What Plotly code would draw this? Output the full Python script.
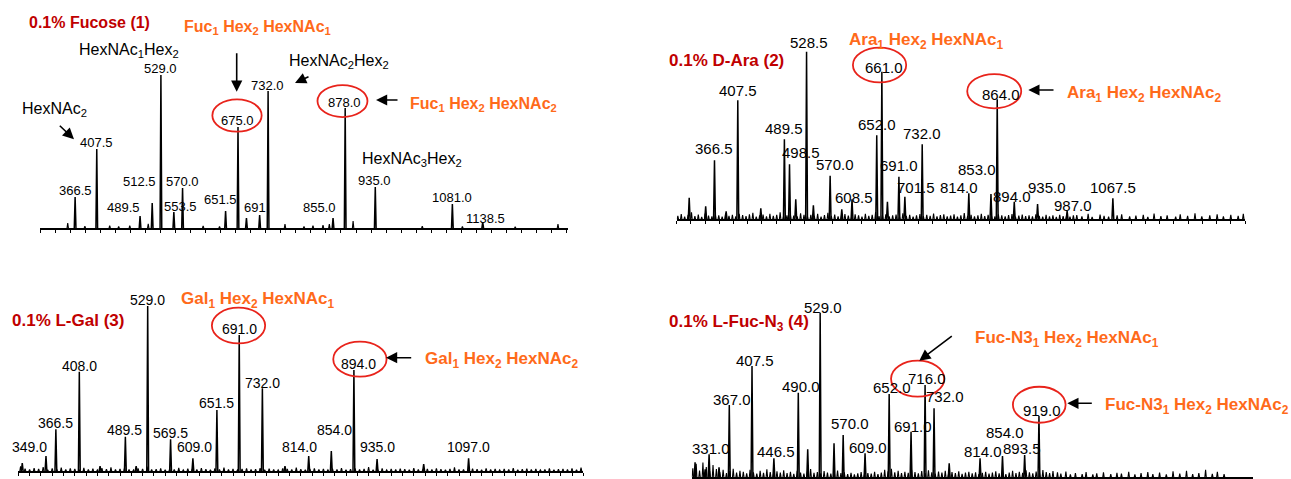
import plotly.graph_objects as go

W, H = 1291, 479

# ------------------------------------------------------------------ data
# Panel 1: 0.1% Fucose (1)
p1_mz = [366.5, 407.5, 489.5, 512.5, 529.0, 553.5, 570.0, 651.5, 675.0, 691.0, 716.0,
         732.0, 855.0, 878.0, 935.0, 1081.0, 1138.5]
p1_int = [20.3, 51.6, 7.8, 16.3, 100.0, 10.5, 26.1, 11.1, 66.0, 6.5, 8.5,
          89.5, 6.5, 78.4, 26.8, 15.7, 3.9]
p1_lab = ["366.5", "407.5", "489.5", "512.5", "529.0", "553.5", "570.0", "651.5", "675.0", "691", "",
          "732.0", "855.0", "878.0", "935.0", "1081.0", "1138.5"]
p1_minor_mz = [352.5, 385.0, 432.0, 449.0, 470.0, 505.0, 609.0, 640.0, 764.0, 800.0, 817.0,
               836.0, 848.0, 893.0, 1024.0, 1100.0, 1200.0, 1281.0]
p1_minor_int = [3.3, 1.2, 1.5, 1.0, 1.5, 2.8, 1.3, 1.0, 2.6, 1.0, 1.5,
                1.8, 2.5, 4.6, 1.2, 1.0, 0.8, 2.6]

# Panel 2: 0.1% D-Ara (2)
p2_mz = [322.0, 351.0, 366.5, 387.0, 407.5, 448.0, 489.5, 498.5, 509.5, 528.5, 540.5, 570.0,
         590.5, 608.5, 652.0, 661.0, 670.8, 691.0, 701.5, 732.0, 814.0, 853.0, 864.0,
         894.0, 935.0, 987.0, 1067.5]
p2_int = [12.9, 7.8, 35.2, 4.8, 71.0, 6.6, 47.7, 32.8, 11.9, 100.0, 8.4, 26.0,
          6.0, 11.9, 50.1, 88.1, 10.5, 25.4, 13.5, 44.7, 15.5, 15.1, 71.6,
          10.5, 9.1, 5.1, 12.5]
p2_lab = ["", "", "366.5", "", "407.5", "", "489.5", "498.5", "", "528.5", "", "570.0",
          "", "608.5", "652.0", "661.0", "", "691.0", "701.5", "732.0", "814.0", "853.0", "864.0",
          "894.0", "935.0", "987.0", "1067.5"]
p2_noise_start, p2_noise_step = 302.0, 6.0
p2_noise = [2.0, 3.1, 1.6, 2.6, 4.2, 1.9, 2.8, 1.5, 3.4, 2.2, 1.8, 3.0, 2.4, 1.6, 3.6, 2.1, 2.7, 1.7, 3.2, 2.5,
            1.9, 2.9, 3.8, 1.6, 2.3, 2.8, 1.8, 3.3, 2.0, 2.6, 4.1, 1.7, 2.4, 3.0, 2.2, 1.8, 3.5, 2.6, 1.9, 2.7,
            2.1, 3.2, 1.6, 2.5, 3.9, 2.0, 2.8, 1.7, 2.4, 3.1, 2.2, 1.8, 2.9, 2.4, 1.6, 3.3, 2.0, 2.6, 4.4, 1.9,
            2.5, 3.0, 1.7, 2.3, 2.8, 1.8, 3.6, 2.1, 2.7, 1.6, 2.4, 3.1, 1.9, 2.6, 2.0, 3.4, 1.8, 2.5, 2.9, 1.7,
            2.2, 3.0, 1.6, 2.4, 3.7, 2.0, 2.7, 1.8, 2.3, 3.2, 1.9, 2.6, 2.1, 1.7, 2.9, 2.3, 1.8, 2.5, 3.1, 1.6,
            2.2, 2.8, 1.9, 2.4, 1.7, 3.0, 2.0, 1.6, 2.6, 1.8, 2.3, 1.5, 2.7, 1.9, 2.1, 1.6, 2.4]
p2_tail_mz = [1004, 1013, 1024, 1031, 1045, 1052, 1060, 1075, 1083, 1097, 1108, 1121, 1129, 1140,
              1152, 1163, 1178, 1186, 1199, 1212, 1224, 1238, 1251, 1262, 1275, 1288, 1297]
p2_tail_int = [2.5, 1.8, 3.2, 1.5, 2.8, 2.0, 1.6, 2.4, 3.0, 1.7, 2.2, 2.6, 1.5, 3.4,
               1.9, 2.3, 1.6, 2.9, 2.1, 3.6, 1.8, 2.4, 3.0, 1.7, 2.6, 2.0, 3.2]

# Panel 3: 0.1% L-Gal (3)
p3_mz = [307.0, 349.0, 366.5, 408.0, 444.7, 489.5, 508.6, 529.0, 569.5, 609.0, 651.5, 691.0,
         732.0, 772.0, 814.0, 854.0, 894.0, 935.0, 1017.5, 1097.0]
p3_int = [4.8, 9.1, 25.3, 60.2, 3.0, 20.8, 3.0, 100.0, 19.2, 7.7, 37.0, 82.4,
          50.1, 3.0, 9.1, 12.1, 61.2, 7.3, 4.2, 7.7]
p3_lab = ["", "349.0", "366.5", "408.0", "", "489.5", "", "529.0", "569.5", "609.0", "651.5", "691.0",
          "732.0", "", "814.0", "854.0", "894.0", "935.0", "", "1097.0"]
p3_noise_start, p3_noise_step = 304.0, 8.0
p3_noise = [2.8, 1.4, 0.9, 1.8, 1.2, 2.4, 0.8, 1.5, 1.1, 2.0, 0.9, 1.6, 1.2, 0.8, 1.9, 1.0, 1.4, 0.7, 1.7, 1.1,
            2.2, 0.9, 1.3, 1.8, 1.0, 0.7, 1.5, 1.2, 2.6, 0.9, 1.1, 1.6, 0.8, 1.3, 1.0, 1.9, 0.7, 1.4, 1.2, 0.9,
            1.7, 1.1, 0.8, 1.5, 1.0, 2.1, 0.9, 1.3, 0.7, 1.2, 1.6, 0.9, 1.1, 1.8, 0.8, 1.4, 1.0, 0.7, 1.5, 1.2,
            0.9, 2.0, 1.1, 0.8, 1.3, 1.6, 0.9, 1.2, 0.7, 1.4, 1.0, 1.8, 0.8, 1.1, 1.5, 0.9, 1.3, 2.4, 0.8, 1.0,
            1.6, 0.7, 1.2, 0.9, 1.4, 1.1, 0.8, 1.7, 1.0, 0.7, 1.3, 0.9, 1.5, 1.1, 0.8, 1.2, 2.2, 0.9, 1.0, 0.7,
            1.4, 1.1, 0.8, 1.6, 0.9, 1.2, 0.7, 1.3, 1.0, 1.8, 0.8, 1.1, 1.4, 0.9, 1.2, 0.7, 1.0, 1.5, 0.8, 1.1,
            1.3, 0.9, 1.6, 0.8, 2.0]

# Panel 4: 0.1% L-Fuc-N3 (4)
p4_mz = [306.0, 324.0, 331.0, 348.7, 367.0, 407.5, 446.5, 490.0, 506.8, 529.0, 553.7, 570.0,
         609.0, 652.0, 691.0, 716.0, 732.0, 759.0, 814.0, 854.0, 893.5, 919.0]
p4_int = [9.1, 4.9, 14.0, 6.1, 43.9, 67.6, 11.5, 51.4, 17.0, 100.0, 20.7, 25.7,
          14.6, 50.6, 27.7, 56.1, 41.9, 8.5, 11.5, 12.9, 13.5, 37.2]
p4_lab = ["", "", "331.0", "", "367.0", "407.5", "446.5", "490.0", "", "529.0", "", "570.0",
          "609.0", "652.0", "691.0", "716.0", "732.0", "", "814.0", "854.0", "893.5", "919.0"]
p4_noise_start, p4_noise_step = 302.0, 6.0
p4_noise = [5.5, 8.2, 4.1, 9.0, 6.3, 3.8, 7.4, 5.0,
            3.2, 4.5, 2.6, 3.8, 5.2, 2.9, 4.0, 3.3, 2.4, 4.6, 3.0, 2.2, 3.9, 2.7, 4.8, 3.1, 2.5, 3.6, 2.8, 4.3,
            2.6, 3.4, 2.1, 3.9, 2.9, 2.3, 3.5, 5.0, 2.7, 3.2, 2.4, 3.8, 2.8, 2.2, 3.3, 4.1, 2.6, 3.0, 2.0, 2.7,
            1.8, 2.4, 3.1, 1.9, 2.6, 2.2, 3.4, 2.0, 2.8, 4.5, 3.6, 5.2, 3.0, 4.0, 2.5, 3.3, 2.7, 4.6, 3.1, 2.4,
            3.8, 2.6, 4.2, 3.0, 2.2, 3.5, 2.8, 4.0, 2.3, 3.1, 2.5, 3.7, 2.1, 2.9, 3.4, 2.4, 3.0, 2.0, 2.7, 3.3,
            2.2, 2.9, 3.6, 2.4, 3.1, 2.0, 2.8, 3.9, 2.5, 3.4, 2.7, 4.2, 3.0, 2.4, 3.5, 2.8, 4.4, 3.2, 2.6, 3.8]
p4_tail_mz = [952, 958, 967, 975, 984, 996, 1003, 1015, 1022, 1034, 1047, 1058, 1066, 1079, 1090,
              1101, 1113, 1122, 1134, 1146, 1158, 1170, 1182, 1193, 1204, 1216, 1228, 1237, 1249]
p4_tail_int = [3.0, 2.2, 3.5, 1.8, 2.6, 2.0, 3.2, 1.7, 2.4, 3.0, 1.9, 2.7, 2.2, 3.4, 1.8,
               2.5, 3.1, 2.0, 2.8, 1.7, 3.6, 2.3, 4.0, 1.9, 2.6, 4.5, 2.1, 3.3, 2.0]

mz_range = [300, 1300]

# ------------------------------------------------------------------ styling / layout
FONT = "Liberation Sans, Arial, Helvetica, sans-serif"
RED = "#C00000"
ORANGE = "#FF6A1A"
CIRCLE = "#E8231B"

# panel geometry in page pixels: x-axis left/right, baseline y, px per intensity unit, top of panel
panels = {
    1: dict(x0=40.0, x1=568.0, base=228.0, scale=1.53, top=0.0, fs=13),
    2: dict(x0=676.7, x1=1245.0, base=219.3, scale=1.676, top=0.0, fs=15),
    3: dict(x0=18.3, x1=583.3, base=471.0, scale=1.65, top=240.0, fs=14),
    4: dict(x0=691.7, x1=1252.7, base=477.3, scale=1.646, top=240.0, fs=15),
}

# label offsets (dx px right, dy px up of label centre relative to peak top)
lab_off = {
    1: {"366.5": (0, 6.3), "407.5": (-0.7, 6.3), "489.5": (-16.3, 9), "512.5": (-12.7, 21.3),
        "529.0": (0, 6.7), "553.5": (7, 5.3), "570.0": (0, 7), "651.5": (-5, 11.7), "675.0": (-1, 6.3),
        "691": (9, 10.7), "732.0": (-0.7, 6), "855.0": (-14, 11), "878.0": (-0.7, 6),
        "935.0": (-1, 7), "1081.0": (0, 6), "1138.5": (3, 4)},
    2: {"366.5": (0, 11.7), "407.5": (0, 10), "489.5": (0, 11), "498.5": (11, 11.7), "528.5": (2.7, 9.4),
        "570.0": (5, 11.4), "608.5": (2, 2.3), "652.0": (0, 10.7), "661.0": (2, 4.4), "691.0": (0, 11.7),
        "701.5": (11, 9), "732.0": (0, 10.7), "814.0": (-9.5, 5.6), "853.0": (-14, 24), "864.0": (3.3, 5),
        "894.0": (-2, 5.7), "935.0": (9.4, 16.7), "987.0": (6, 5.7), "1067.5": (0, 11)},
    3: {"349.0": (-16.3, 8.7), "366.5": (0, 6.6), "408.0": (0, 5.7), "489.5": (-1.3, 6.7), "529.0": (0, 6),
        "569.5": (0, 6.6), "609.0": (2, 11), "651.5": (0, 6.7), "691.0": (0, 5.7), "732.0": (0, 5.6),
        "814.0": (-9.5, 8.7), "854.0": (3, 21), "894.0": (4.3, 6), "935.0": (0.5, 11.7), "1097.0": (0, 11)},
    4: {"331.0": (2, 6), "367.0": (2.5, 5.7), "407.5": (2.7, 6), "446.5": (2.5, 6.6), "490.0": (2.6, 6.7),
        "529.0": (2.7, 5), "570.0": (7.3, 11.7), "609.0": (2.7, 6), "652.0": (3, 6.3), "691.0": (2.3, 5.7),
        "716.0": (2.3, 6.7), "732.0": (10.6, 11.6), "814.0": (2.8, 6.6), "854.0": (3, 24),
        "893.5": (-2.4, 6.7), "919.0": (2.7, 6)},
}

# circles: panel -> list of (label, dx, dy, w, h)
circles = {
    1: [("675.0", -1, 11.5, 49.3, 32.3), ("878.0", -2.7, 7, 50, 32)],
    2: [("661.0", -2.3, 6.7, 53.3, 34.7), ("864.0", -3, 8.1, 54, 34.3)],
    3: [("691.0", -0.7, 9.5, 53.3, 35.7), ("894.0", 6, 10.8, 53.3, 35)],
    4: [("716.0", -7.4, 6.3, 53.3, 36), ("919.0", 0.3, 11.3, 52.7, 36)],
}

# arrows: (tail x, tail y, head x, head y) in page px
arrows = [
    (58.3, 124.3, 74, 139.3), (236.7, 51.7, 236.7, 91.7), (310, 76, 295, 83), (399, 100, 376, 100),
    (1055, 90, 1028.3, 90),
    (412.7, 357.7, 386, 357.7),
    (953.3, 335, 919.3, 360.7), (1093.3, 403.3, 1067.3, 403.3),
]

# free texts: (text, left x, centre y, size, colour, bold)
texts = [
    ("0.1% Fucose (1)", 26.7, 23, 16, RED, True),
    ("Fuc<sub>1</sub> Hex<sub>2</sub> HexNAc<sub>1</sub>", 181.7, 28, 16, ORANGE, True),
    ("HexNAc<sub>1</sub>Hex<sub>2</sub>", 76.7, 50, 16, "black", False),
    ("HexNAc<sub>2</sub>", 20, 110, 16, "black", False),
    ("HexNAc<sub>2</sub>Hex<sub>2</sub>", 287, 62, 16, "black", False),
    ("Fuc<sub>1</sub> Hex<sub>2</sub> HexNAc<sub>2</sub>", 408, 104, 16, ORANGE, True),
    ("HexNAc<sub>3</sub>Hex<sub>2</sub>", 360, 159, 16, "black", False),
    ("0.1% D-Ara (2)", 666.7, 60, 17, RED, True),
    ("Ara<sub>1</sub> Hex<sub>2</sub> HexNAc<sub>1</sub>", 847.3, 41, 17, ORANGE, True),
    ("Ara<sub>1</sub> Hex<sub>2</sub> HexNAc<sub>2</sub>", 1065, 94, 17, ORANGE, True),
    ("0.1% L-Gal (3)", 10, 320, 17, RED, True),
    ("Gal<sub>1</sub> Hex<sub>2</sub> HexNAc<sub>1</sub>", 179, 300, 17, ORANGE, True),
    ("Gal<sub>1</sub> Hex<sub>2</sub> HexNAc<sub>2</sub>", 422.7, 360, 17, ORANGE, True),
    ("0.1% L-Fuc-N<sub>3</sub> (4)", 666.7, 323, 17, RED, True),
    ("Fuc-N3<sub>1</sub> Hex<sub>2</sub> HexNAc<sub>1</sub>", 973.3, 339, 17, ORANGE, True),
    ("Fuc-N3<sub>1</sub> Hex<sub>2</sub> HexNAc<sub>2</sub>", 1103.3, 406, 17, ORANGE, True),
]

PEAK_HW = 1.6    # half-width of a peak stick in m/z
NOISE_HW = 1.3


def px(x):
    return x / W


def py(y):
    return 1 - y / H


def sticks(mzs, ints, hw):
    xs, ys = [], []
    for m, h in zip(mzs, ints):
        xs += [m - hw, m, m + hw, None]
        ys += [0, h, 0, None]
    return xs, ys


def sampled(start, step, vals):
    return [start + i * step for i in range(len(vals))], vals


data = {
    1: dict(mz=p1_mz, it=p1_int, lab=p1_lab, minor=[(p1_minor_mz, p1_minor_int)]),
    2: dict(mz=p2_mz, it=p2_int, lab=p2_lab,
            minor=[sampled(p2_noise_start, p2_noise_step, p2_noise), (p2_tail_mz, p2_tail_int)]),
    3: dict(mz=p3_mz, it=p3_int, lab=p3_lab,
            minor=[sampled(p3_noise_start, p3_noise_step, p3_noise)]),
    4: dict(mz=p4_mz, it=p4_int, lab=p4_lab,
            minor=[sampled(p4_noise_start, p4_noise_step, p4_noise), (p4_tail_mz, p4_tail_int)]),
}

fig = go.Figure()
annotations = []
shapes = []
layout = {}

dtick = {1: 28.5, 2: 25, 3: 20, 4: 25}

for n, g in panels.items():
    sfx = "" if n == 1 else str(n)
    xr, yr = "x" + sfx, "y" + sfx
    d = data[n]
    for mzs, its in d["minor"]:
        xs, ys = sticks(mzs, its, NOISE_HW)
        fig.add_trace(go.Scatter(x=xs, y=ys, mode="lines", xaxis=xr, yaxis=yr,
                                 line=dict(color="black", width=1.1), hoverinfo="skip",
                                 showlegend=False))
    xs, ys = sticks(d["mz"], d["it"], PEAK_HW)
    fig.add_trace(go.Scatter(x=xs, y=ys, mode="lines", xaxis=xr, yaxis=yr,
                             line=dict(color="black", width=1.5), showlegend=False))

    ymax = (g["base"] - g["top"]) / g["scale"]
    layout["xaxis" + sfx] = dict(domain=[px(g["x0"]), px(g["x1"])], range=mz_range,
                                 anchor=yr, showgrid=False, zeroline=False, showline=True,
                                 linecolor="black", linewidth=1.5, ticks="outside", ticklen=3,
                                 tickwidth=1, tickcolor="black", tick0=300, dtick=dtick[n],
                                 showticklabels=False, fixedrange=True)
    layout["yaxis" + sfx] = dict(domain=[py(g["base"]), py(g["top"])], range=[0, ymax],
                                 anchor=xr, visible=False, fixedrange=True)

    for m, h, lab in zip(d["mz"], d["it"], d["lab"]):
        if not lab:
            continue
        dx, dy = lab_off[n].get(lab, (0, 6))
        annotations.append(dict(x=m, y=h, xref=xr, yref=yr, text=lab, showarrow=False,
                                xanchor="center", yanchor="middle", xshift=dx, yshift=dy,
                                font=dict(family=FONT, size=g["fs"], color="black")))
    for lab, dx, dy, w, hh in circles[n]:
        i = d["lab"].index(lab)
        shapes.append(dict(type="circle", xref=xr, yref=yr, xsizemode="pixel", ysizemode="pixel",
                           xanchor=d["mz"][i], yanchor=d["it"][i],
                           x0=dx - w / 2, x1=dx + w / 2, y0=dy - hh / 2, y1=dy + hh / 2,
                           line=dict(color=CIRCLE, width=1.8)))

for tx, ty, hx, hy in arrows:
    annotations.append(dict(x=px(hx), y=py(hy), xref="paper", yref="paper", text="",
                            showarrow=True, ax=tx - hx, ay=ty - hy, arrowhead=2, arrowsize=1.4,
                            arrowwidth=1.6, arrowcolor="black", standoff=0, startstandoff=0))

for t, lx, cy, size, col, bold in texts:
    annotations.append(dict(x=px(lx), y=py(cy), xref="paper", yref="paper",
                            text=f"<b>{t}</b>" if bold else t, showarrow=False,
                            xanchor="left", yanchor="middle",
                            font=dict(family=FONT, size=size, color=col)))

fig.update_layout(width=W, height=H, margin=dict(l=0, r=0, t=0, b=0),
                  paper_bgcolor="white", plot_bgcolor="white",
                  annotations=annotations, shapes=shapes, showlegend=False, **layout)

fig.write_html("out.html", config={"displayModeBar": False},
               post_script="document.body.style.margin='0';document.body.style.padding='0';")
